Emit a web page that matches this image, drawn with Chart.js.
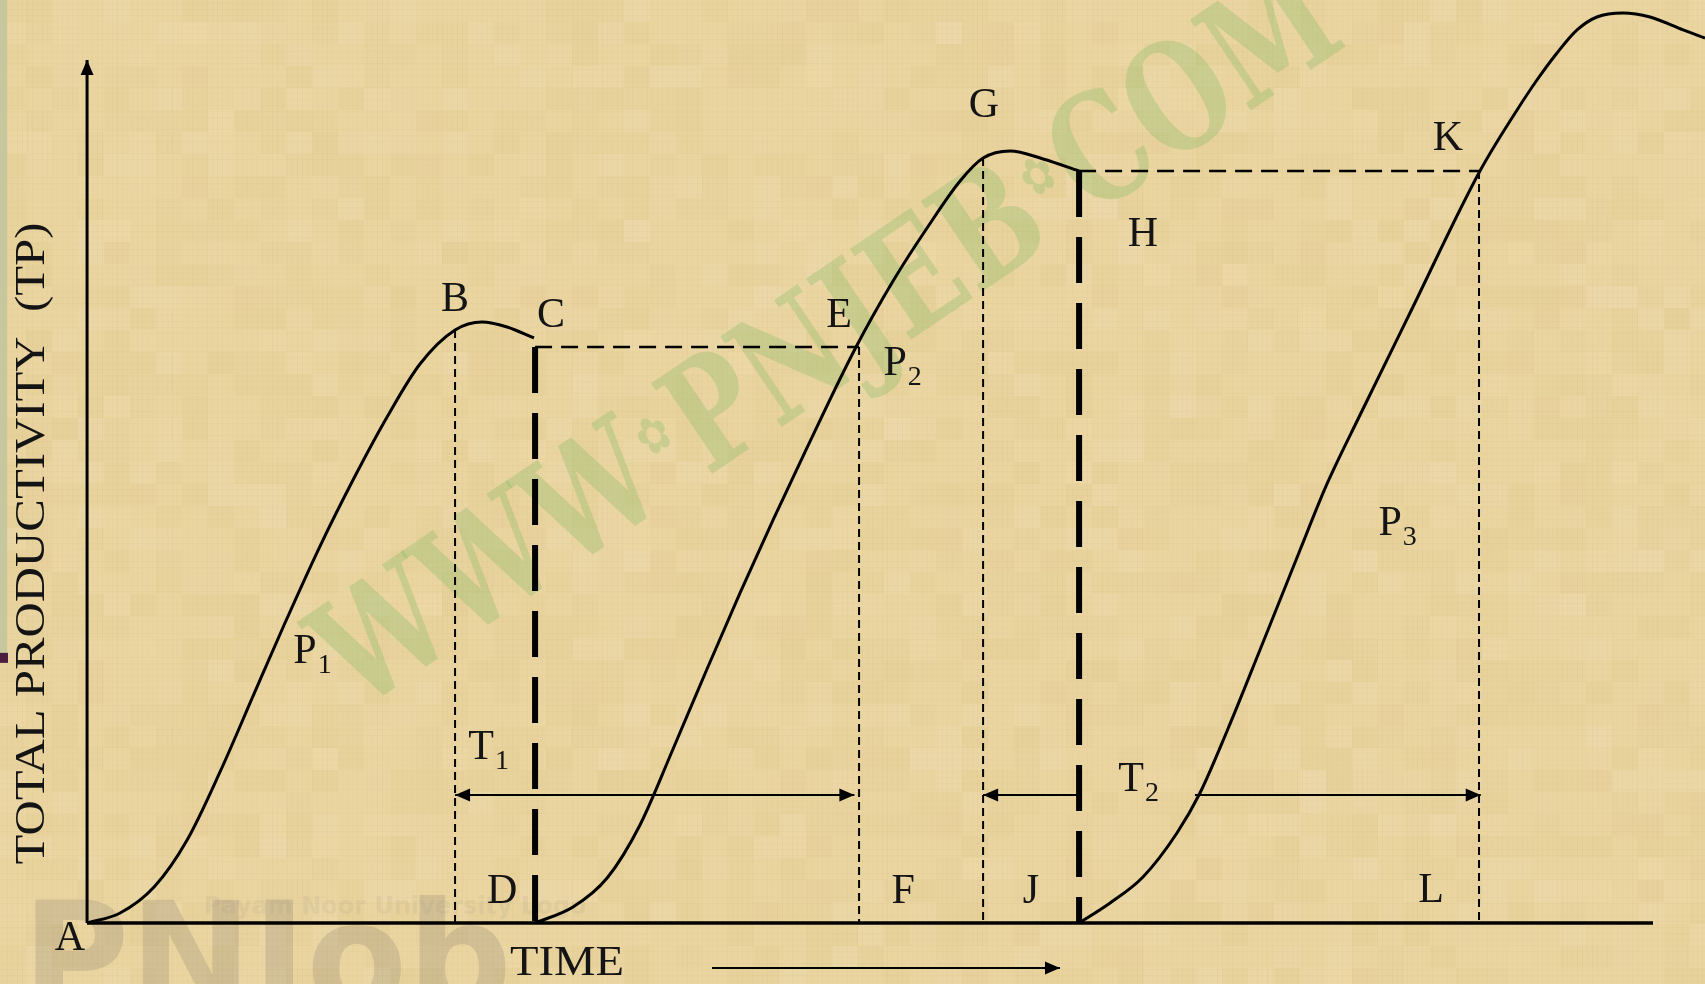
<!DOCTYPE html>
<html>
<head>
<meta charset="utf-8">
<script src="https://cdn.jsdelivr.net/npm/chart.js@4.4.1/dist/chart.umd.min.js"></script>
<style>
  html, body { margin: 0; padding: 0; background: #e9d4a0; overflow: hidden; }
  #wrap { width: 1705px; height: 984px; position: relative; }
</style>
</head>
<body>
<div id="wrap"><canvas id="tp" width="1705" height="984"></canvas></div>
<script>
// Production curves P1, P2, P3 (time units on x, total productivity on y)
const p1X = [0, 2.11, 4.28, 6.39, 8.49, 10.66, 12.58, 14.88, 17.05, 19.16, 21.26, 23.50, 25.22, 26.82, 28.54];
const p1Y = [0, 1.16, 4.17, 9.62, 17.50, 26.54, 34.53, 43.68, 51.56, 58.63, 64.77, 68.71, 69.64, 69.06, 67.79];

const p2X = [28.61, 31.03, 33.21, 35.31, 37.42, 39.59, 41.70, 43.81, 45.85, 49.04, 51.47, 53.64, 55.75, 57.22, 58.94, 61.05, 63.35];
const p2Y = [0, 1.85, 5.21, 11.36, 20.16, 29.43, 38.24, 46.70, 54.58, 66.51, 74.39, 80.53, 85.98, 88.64, 89.46, 88.53, 87.14];

const p3X = [63.35, 65.33, 67.43, 69.60, 71.07, 72.80, 74.90, 77.46, 79.18, 81.29, 84.48, 88.95, 91.32, 92.59, 93.87, 95.15, 96.42, 98.08, 99.81, 101.92, 103.32];
const p3Y = [0, 2.32, 5.33, 10.43, 15.06, 22.25, 31.63, 43.22, 50.87, 58.86, 70.68, 87.14, 94.21, 97.68, 100.81, 103.48, 104.98, 105.45, 104.98, 103.48, 102.55];

// guide lines: B, C/D, E/F, G/J, H, K/L
const guideX   = [23.50, 28.61, 49.30, 57.22, 63.35, 88.89];
const guideTop = [68.71, 66.74, 66.74, 88.64, 87.14, 87.14];
const thinGuides  = [0, 2, 3, 5];
const thickGuides = [1, 4];
const plateauY = [66.74, 87.14];   // C..E and H..K levels

// period arrows
const arrowY = 14.83;
const t1Span = [23.50, 49.00];
const t2Left = [57.22, 63.35];
const t2Right = [70.75, 89.00];
const timeArrow = [39.91, 62.13, -5.21];
const axisEnd = 100;

const pointLabels = [
  { t: 'A', x: -1.09, y: -1.85 },
  { t: 'B', x: 23.50, y: 72.19 },
  { t: 'C', x: 29.63, y: 70.34 },
  { t: 'E', x: 48.02, y: 70.34 },
  { t: 'G', x: 57.28, y: 94.67 },
  { t: 'H', x: 67.43, y: 79.72 },
  { t: 'K', x: 86.91, y: 90.85 },
  { t: 'D', x: 26.50, y: 3.59 },
  { t: 'F', x: 52.11, y: 3.59 },
  { t: 'J', x: 60.28, y: 3.59 },
  { t: 'L', x: 85.82, y: 3.71 },
  { t: 'P', s: '1', x: 13.92, y: 31.40 },
  { t: 'P', s: '2', x: 51.60, y: 64.77 },
  { t: 'P', s: '3', x: 83.21, y: 46.23 },
  { t: 'T', s: '1', x: 25.16, y: 20.28 },
  { t: 'T', s: '2', x: 66.67, y: 16.57 },
];

const SERIF = '"Liberation Serif", "Times New Roman", serif';

const pts = (xs, ys) => xs.map((x, i) => ({ x, y: ys[i] }));
const seg = (x1, y1, x2, y2) => [{ x: x1, y: y1 }, { x: x2, y: y2 }];

function lineSet(data, width, dash, extra) {
  return Object.assign({
    data,
    borderColor: '#000',
    borderWidth: width,
    borderDash: dash || [],
    borderCapStyle: 'butt',
    pointRadius: 0,
    pointHoverRadius: 0,
    showLine: true,
    fill: false,
  }, extra || {});
}

const datasets = [];
thinGuides.forEach(i => datasets.push(lineSet(seg(guideX[i], guideTop[i], guideX[i], 0), 2, [8, 5])));
thickGuides.forEach(i => datasets.push(lineSet(seg(guideX[i], guideTop[i], guideX[i], 0), 6, [46, 20])));
datasets.push(lineSet(seg(guideX[1], plateauY[0], guideX[2], plateauY[0]), 2.5, [17, 9]));
datasets.push(lineSet(seg(guideX[4], plateauY[1], guideX[5], plateauY[1]), 2.5, [17, 9]));

const smooth = { cubicInterpolationMode: 'monotone', borderJoinStyle: 'round' };
datasets.push(lineSet(pts(p1X, p1Y), 3, null, smooth));
datasets.push(lineSet(pts(p2X, p2Y), 3, null, smooth));
datasets.push(lineSet(pts(p3X, p3Y), 3, null, smooth));

datasets.push(lineSet(seg(0, 0, axisEnd, 0), 3.5));
datasets.push(lineSet(seg(0, 0, 0, axisEnd), 3, null, { arrowEnds: ['end'] }));

datasets.push(lineSet(seg(t1Span[0], arrowY, t1Span[1], arrowY), 2, null, { arrowEnds: ['start', 'end'] }));
datasets.push(lineSet(seg(t2Left[0], arrowY, t2Left[1], arrowY), 2, null, { arrowEnds: ['start'] }));
datasets.push(lineSet(seg(t2Right[0], arrowY, t2Right[1], arrowY), 2, null, { arrowEnds: ['end'] }));
datasets.push(lineSet(seg(timeArrow[0], timeArrow[2], timeArrow[1], timeArrow[2]), 2, null, { arrowEnds: ['end'] }));

function hash(i, j) {
  const v = Math.sin(i * 127.1 + j * 311.7) * 43758.5453;
  return v - Math.floor(v);
}

const parchment = {
  id: 'parchment',
  beforeDraw(chart) {
    const { ctx, width, height, scales: { x, y } } = chart;
    ctx.save();
    ctx.fillStyle = '#ead5a1';
    ctx.fillRect(0, 0, width, height);
    // woven paper texture
    const bw = 26, bh = 22;
    for (let i = 0; i * bw < width; i++) {
      for (let j = 0; j * bh < height; j++) {
        const h = hash(i, j);
        if (h < 0.4) ctx.fillStyle = 'rgba(205,170,85,' + (0.03 + h * 0.12).toFixed(3) + ')';
        else if (h > 0.7) ctx.fillStyle = 'rgba(250,232,205,' + ((h - 0.7) * 0.45).toFixed(3) + ')';
        else continue;
        ctx.fillRect(i * bw, j * bh, bw, bh);
      }
    }
    ctx.lineWidth = 1;
    for (let gx = 2, k = 0; gx < width; gx += 5, k++) {
      ctx.strokeStyle = 'rgba(175,145,80,' + (0.02 + hash(k, 7) * 0.05).toFixed(3) + ')';
      ctx.beginPath(); ctx.moveTo(gx + 0.5, 0); ctx.lineTo(gx + 0.5, height); ctx.stroke();
    }
    for (let gy = 3, k = 0; gy < height; gy += 6, k++) {
      ctx.strokeStyle = 'rgba(175,145,80,' + (0.015 + hash(3, k) * 0.035).toFixed(3) + ')';
      ctx.beginPath(); ctx.moveTo(0, gy + 0.5); ctx.lineTo(width, gy + 0.5); ctx.stroke();
    }

    // left slide strip
    ctx.fillStyle = '#c5c89d';
    ctx.fillRect(0, 0, 7, y.getPixelForValue(31.1));
    ctx.fillStyle = '#4d1d3f';
    ctx.fillRect(0, y.getPixelForValue(31.3), 8, 10);

    // bottom-left logo watermark
    ctx.fillStyle = 'rgba(115,105,98,0.20)';
    ctx.font = 'bold 150px "DejaVu Sans", sans-serif';
    ctx.textBaseline = 'alphabetic';
    ctx.textAlign = 'left';
    const lw = ctx.measureText('PNJob').width;
    ctx.save();
    ctx.translate(x.getPixelForValue(-4.15), y.getPixelForValue(-9.97));
    ctx.scale(490 / lw, 1);
    ctx.fillText('PNJob', 0, 0);
    ctx.restore();

    ctx.fillStyle = 'rgba(150,145,140,0.12)';
    ctx.font = 'bold 24px "DejaVu Sans", sans-serif';
    ctx.textAlign = 'center';
    ctx.textBaseline = 'middle';
    ctx.fillText('Payam Noor University Logo', x.getPixelForValue(19.67), y.getPixelForValue(1.74));

    // diagonal site watermark
    const parts = ['WWW', '\u273F', 'PNJEB', '\u273F', 'COM'];
    const big = 'bold 150px "DejaVu Serif", serif';
    const small = '52px "DejaVu Sans", sans-serif';
    const widths = parts.map((p, k) => {
      ctx.font = k % 2 ? small : big;
      return ctx.measureText(p).width + (k % 2 ? 14 : 0);
    });
    const total = widths.reduce((a, b) => a + b, 0);
    ctx.translate(x.getPixelForValue(47.6), y.getPixelForValue(66.9));
    ctx.rotate(-34 * Math.PI / 180);
    ctx.scale(1196 / total, 1);
    ctx.fillStyle = 'rgba(125,185,95,0.30)';
    ctx.textAlign = 'left';
    let cx = -total / 2;
    parts.forEach((p, k) => {
      ctx.font = k % 2 ? small : big;
      ctx.textBaseline = 'middle';
      ctx.fillText(p, cx + (k % 2 ? 7 : 0), k % 2 ? -22 : 0);
      cx += widths[k];
    });
    ctx.restore();
  },
};

function drawHead(ctx, tip, from, len, half) {
  const dx = tip.x - from.x, dy = tip.y - from.y;
  const d = Math.hypot(dx, dy) || 1;
  const ux = dx / d, uy = dy / d;
  const bx = tip.x - ux * len, by = tip.y - uy * len;
  ctx.beginPath();
  ctx.moveTo(tip.x, tip.y);
  ctx.lineTo(bx - uy * half, by + ux * half);
  ctx.lineTo(bx + uy * half, by - ux * half);
  ctx.closePath();
  ctx.fill();
}

const arrowHeads = {
  id: 'arrowHeads',
  afterDatasetsDraw(chart) {
    const ctx = chart.ctx;
    ctx.save();
    ctx.fillStyle = '#000';
    chart.data.datasets.forEach((ds, i) => {
      if (!ds.arrowEnds) return;
      const el = chart.getDatasetMeta(i).data;
      ds.arrowEnds.forEach(end => {
        const tip = end === 'start' ? el[0] : el[el.length - 1];
        const from = end === 'start' ? el[1] : el[el.length - 2];
        drawHead(ctx, tip, from, 15, 6.5);
      });
    });
    ctx.restore();
  },
};

function fitText(ctx, text, px, py, target, rot) {
  const w = ctx.measureText(text).width;
  ctx.save();
  ctx.translate(px, py);
  if (rot) ctx.rotate(rot);
  ctx.scale(target / w, 1);
  ctx.fillText(text, 0, 0);
  ctx.restore();
}

const textLabels = {
  id: 'textLabels',
  afterDraw(chart) {
    const { ctx, scales: { x, y } } = chart;
    ctx.save();
    ctx.fillStyle = '#141414';
    ctx.textBaseline = 'middle';
    pointLabels.forEach(l => {
      const px = x.getPixelForValue(l.x), py = y.getPixelForValue(l.y);
      ctx.font = '42px ' + SERIF;
      ctx.textAlign = 'center';
      ctx.fillText(l.t, px, py);
      if (l.s) {
        const w = ctx.measureText(l.t).width;
        ctx.font = '28px ' + SERIF;
        ctx.textAlign = 'left';
        ctx.fillText(l.s, px + w / 2 + 1, py + 14);
      }
    });
    ctx.font = '42px ' + SERIF;
    ctx.textAlign = 'center';
    fitText(ctx, 'TIME', x.getPixelForValue(30.65), y.getPixelForValue(-4.75), 114);
    fitText(ctx, 'TOTAL PRODUCTIVITY  (TP)', x.getPixelForValue(-3.45), y.getPixelForValue(43.97), 642, -Math.PI / 2);
    ctx.restore();
  },
};

new Chart(document.getElementById('tp'), {
  type: 'scatter',
  data: { datasets },
  options: {
    responsive: false,
    animation: false,
    events: [],
    layout: { padding: 0 },
    plugins: { legend: { display: false }, tooltip: { enabled: false } },
    scales: {
      x: { type: 'linear', display: false, min: -5.56, max: 103.32 },
      y: { type: 'linear', display: false, min: -7.07, max: 106.95 },
    },
  },
  plugins: [parchment, arrowHeads, textLabels],
});
</script>
</body>
</html>
